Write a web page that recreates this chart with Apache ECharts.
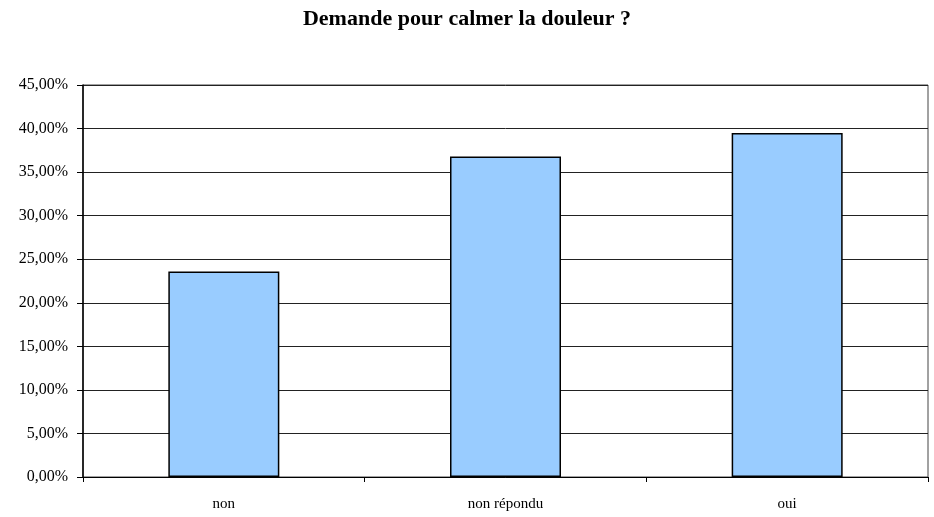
<!DOCTYPE html>
<html>
<head>
<meta charset="utf-8">
<script src="https://cdn.jsdelivr.net/npm/echarts@6/dist/echarts.min.js"></script>
<style>
  html, body { margin: 0; padding: 0; background: #fff; }
  #chart { width: 934px; height: 517px; }
</style>
</head>
<body>
<div id="chart"></div>
<script>
const categories = ['non', 'non répondu', 'oui']
const values = [23.6, 36.8, 39.5]
const yTicks = { min: 0, max: 45, step: 5 }

const chart = echarts.init(document.getElementById('chart'))
const font = '"Liberation Serif", "Times New Roman", serif'

chart.setOption({
  animation: false,
  title: {
    text: 'Demande pour calmer la douleur ?',
    left: 'center',
    top: 3,
    textStyle: { fontFamily: font, fontSize: 22, fontWeight: 'bold', color: '#000' }
  },
  grid: { left: 83, right: 6, top: 85, bottom: 40, show: true, borderColor: '#444', borderWidth: 1 },
  xAxis: {
    type: 'category',
    data: categories,
    axisLine: { lineStyle: { color: '#000', width: 1 } },
    axisTick: { show: true, length: 5, lineStyle: { color: '#000' } },
    axisLabel: { fontFamily: font, fontSize: 15, color: '#000', margin: 20 }
  },
  yAxis: {
    type: 'value',
    min: yTicks.min,
    max: yTicks.max,
    interval: yTicks.step,
    axisLine: { show: true, lineStyle: { color: '#000', width: 1.5 } },
    axisTick: { show: true, length: 6, lineStyle: { color: '#000' } },
    splitLine: { lineStyle: { color: '#222', width: 1 } },
    axisLabel: {
      fontFamily: font, fontSize: 16, color: '#000', margin: 15,
      formatter: v => v.toFixed(2).replace('.', ',') + '%'
    }
  },
  series: [{
    type: 'bar',
    data: values,
    barWidth: 111,
    itemStyle: { color: '#99CCFF', borderColor: '#000', borderWidth: 1.5 }
  }]
})
</script>
</body>
</html>
